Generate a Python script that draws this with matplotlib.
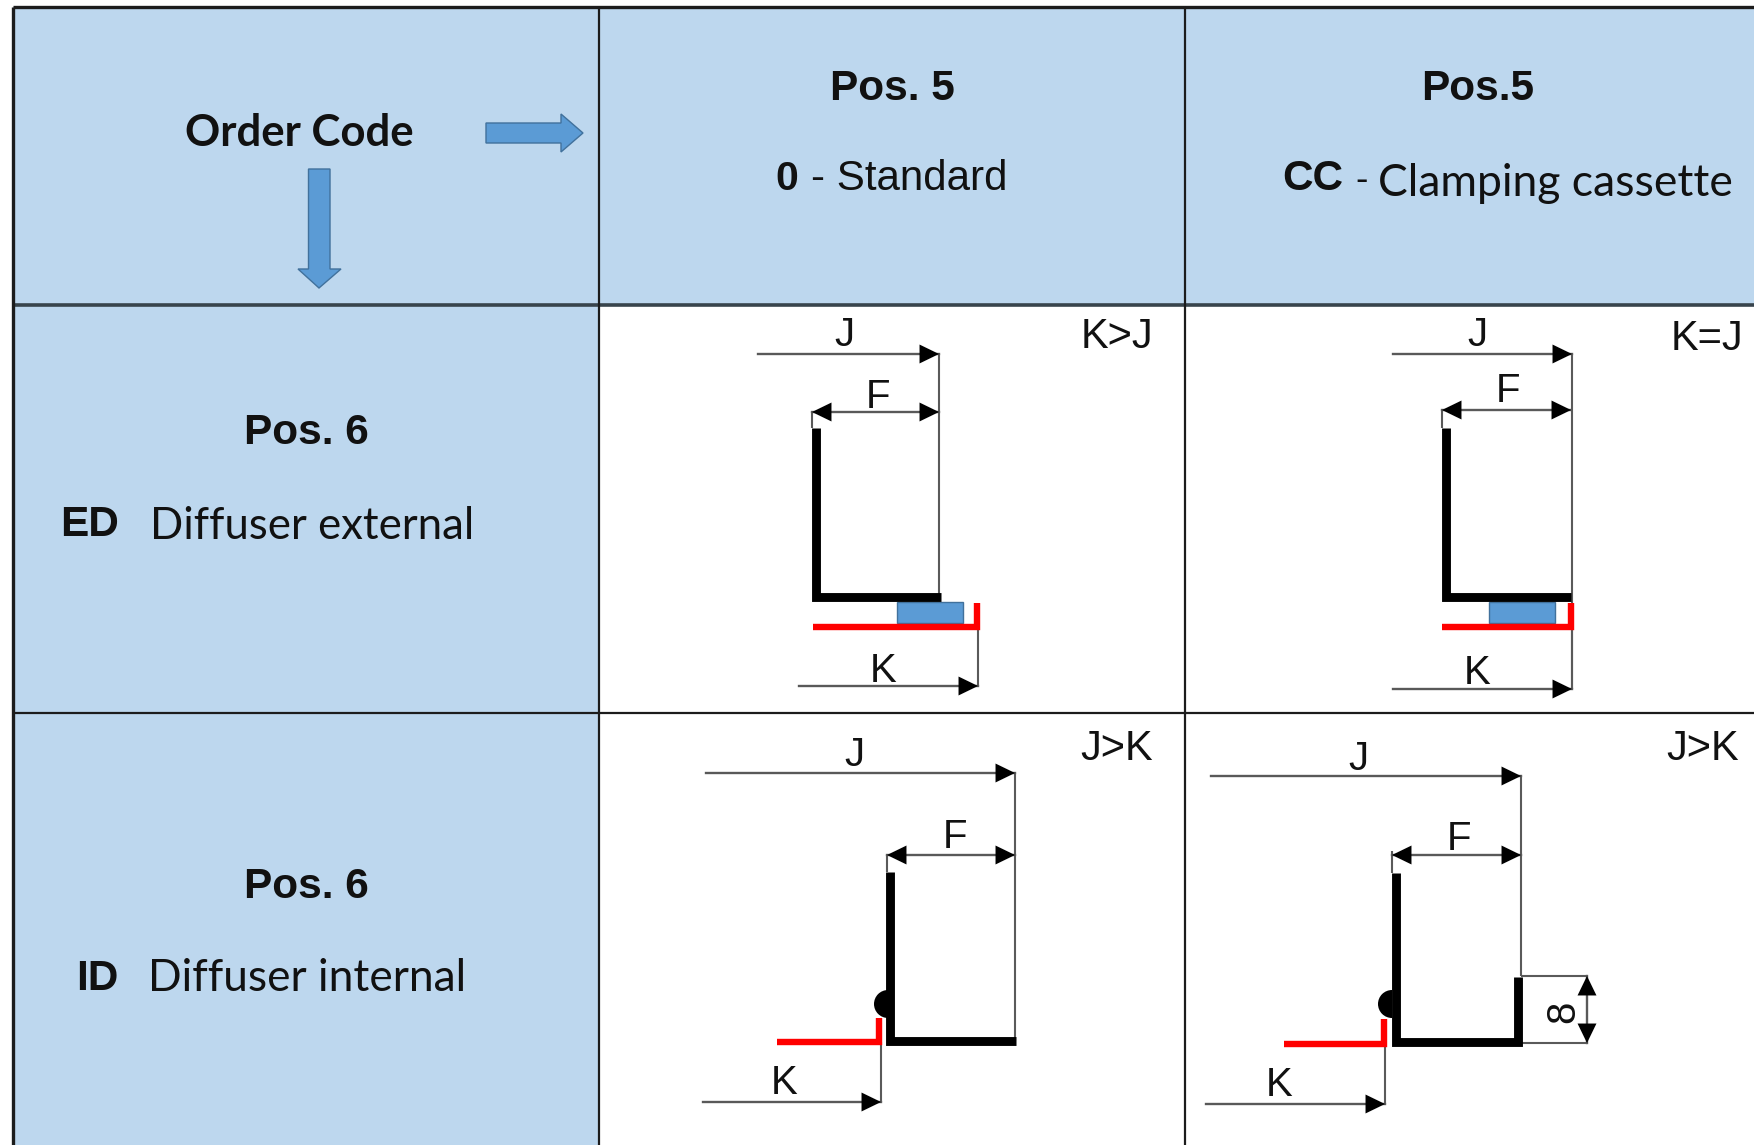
import matplotlib
matplotlib.use('Agg')
import matplotlib.pyplot as plt
from matplotlib.patches import Polygon, Rectangle, Wedge

BLUE_BG = '#bdd7ee'
BLUE_MARK = '#5b9bd5'
BLUE_EDGE = '#41719c'
GREY = '#5a5a5a'
ARIAL = 'Liberation Sans'
CALIBRI = 'Lato'

# table grid, in picture pixels
col_x = [13, 599, 1185]
row_y = [6, 304, 712]
width = 1754
height = 1145

right_arrow = [(486, 122), (561, 122), (561, 113), (583, 132), (561, 151), (561, 142), (486, 142)]
down_arrow = [(308.5, 168), (330, 168), (330, 268), (341, 268), (319, 287), (298, 268), (308.5, 268)]

# drawings: one set of numbers for each of the four cells
# j = (x start, x end, y), f = (x start, x end, y), k = (x start, x end, y)
j_dim = [(758, 939, 353), (1393, 1572, 353), (706, 1015, 772), (1211, 1521, 775)]
f_dim = [(812, 939, 411), (1442, 1571, 409), (887, 1015, 854), (1392, 1521, 854)]
k_dim = [(799, 978, 685), (1393, 1572, 688), (703, 881, 1101), (1206, 1385, 1103)]
j_drop = [593, 688, 1040, 975]
f_tick = [(411, 427), (409, 427), (854, 871), (850, 872)]
k_drop = [626, 626, 1041, 1043]
j_text = [(844, 332), (1477, 332), (854, 752), (1358, 756)]
f_text = [(878, 393), (1508, 388), (955, 833), (1459, 835)]
k_text = [(883, 668), (1477, 669), (784, 1079), (1279, 1082)]
rule_labels = ['K>J', 'K=J', 'J>K', 'J>K']
rule_text = [(1117, 333), (1707, 335), (1117, 746), (1703, 746)]

black_x = [
    [816, 816, 941],
    [1446, 1446, 1571],
    [890, 890, 1016],
    [1396, 1396, 1517.5, 1517.5],
]
black_y = [
    [427, 596, 596],
    [427, 596, 596],
    [871, 1040, 1040],
    [872, 1041, 1041, 976],
]
red_x = [
    [813, 976.5, 976.5],
    [1442, 1571, 1571],
    [777, 878.5, 878.5],
    [1284, 1384, 1384],
]
red_y = [
    [626, 626, 602],
    [626, 626, 602],
    [1041, 1041, 1017],
    [1043, 1043, 1018],
]
clamps = [(897, 601, 66, 21), (1489, 601, 66, 21)]
beads = [(888, 1003), (1392, 1003)]

fig = plt.figure(figsize=(17.54, 11.45), dpi=100)
ax = fig.add_axes([0, 0, 1, 1])
ax.set_xlim(0, width)
ax.set_ylim(height - 1, -1)
ax.axis('off')


def dim_arrow(x0, y0, x1, y1, both=False):
    style = '<|-|>' if both else '-|>'
    ax.annotate('', xy=(x1, y1), xytext=(x0, y0), zorder=4,
                arrowprops=dict(arrowstyle=style + ',head_length=14,head_width=6.8',
                                mutation_scale=1, shrinkA=0, shrinkB=0,
                                color='black', lw=0.01))
    ax.plot([x0, x1], [y0, y1], color=GREY, lw=1.7, zorder=2.5)


def thin(xs, ys):
    ax.plot(xs, ys, color=GREY, lw=1.5, zorder=3, solid_capstyle='butt')


def grid(xs, ys, color, lw):
    ax.plot(xs, ys, color=color, lw=lw, zorder=1, solid_capstyle='butt')


def label(x, y, s, size=22, family=ARIAL, weight='normal', ha='center', rotation=0):
    ax.text(x, y + 2.5, s, fontsize=size, family=family, fontweight=weight, ha=ha,
            va='center', rotation=rotation, color='#111111', zorder=6)


# backgrounds
ax.add_patch(Rectangle((col_x[0], row_y[0]), col_x[1] - col_x[0], height - row_y[0],
                       fc=BLUE_BG, ec='none', zorder=0))
ax.add_patch(Rectangle((col_x[0], row_y[0]), width - col_x[0], row_y[1] - row_y[0],
                       fc=BLUE_BG, ec='none', zorder=0))

# grid lines
grid([col_x[0], width], [row_y[0], row_y[0]], '#1c1c1c', 2.4)
grid([col_x[0], width], [row_y[1], row_y[1]], '#38444c', 2.6)
grid([col_x[0], width], [row_y[2], row_y[2]], '#1c1c1c', 1.6)
grid([col_x[0], col_x[0]], [row_y[0], height + 2], '#1c1c1c', 2.4)
grid([col_x[1], col_x[1]], [row_y[0], height + 2], '#1c1c1c', 1.6)
grid([col_x[2], col_x[2]], [row_y[0], height + 2], '#1c1c1c', 1.6)

# order code arrows
ax.add_patch(Polygon(right_arrow, fc=BLUE_MARK, ec=BLUE_EDGE, lw=1, zorder=2))
ax.add_patch(Polygon(down_arrow, fc=BLUE_MARK, ec=BLUE_EDGE, lw=1, zorder=2))

# header text
label(299, 130, 'Order Code', size=31.5, family=CALIBRI, weight='bold')
label(892, 85, 'Pos. 5', size=30.5, weight='bold')
label(1478, 85, 'Pos.5', size=30.5, weight='bold')
label(775, 176, '0', size=29.5, weight='bold', ha='left')
label(811, 176, '- Standard', size=30.3, ha='left')
label(1282, 176, 'CC', size=30.5, weight='bold', ha='left')
label(1355, 178, '-', size=27, ha='left')
label(1378, 180, 'Clamping cassette', size=32, family=CALIBRI, ha='left')
label(306, 430, 'Pos. 6', size=30.5, weight='bold')
label(60, 521, 'ED', size=30.5, weight='bold', ha='left')
label(150, 523, 'Diffuser external', size=31.5, family=CALIBRI, ha='left')
label(306, 883, 'Pos. 6', size=30.5, weight='bold')
label(76, 975, 'ID', size=30.5, weight='bold', ha='left')
label(148, 975, 'Diffuser internal', size=31.9, family=CALIBRI, ha='left')

# the four section drawings
for i in range(4):
    dim_arrow(j_dim[i][0], j_dim[i][2], j_dim[i][1], j_dim[i][2])
    dim_arrow(f_dim[i][0], f_dim[i][2], f_dim[i][1], f_dim[i][2], both=True)
    dim_arrow(k_dim[i][0], k_dim[i][2], k_dim[i][1], k_dim[i][2])
    thin([j_dim[i][1] - 0.5] * 2, [j_dim[i][2], j_drop[i]])
    thin([f_dim[i][0]] * 2, list(f_tick[i]))
    thin([k_dim[i][1] - 0.5] * 2, [k_drop[i], k_dim[i][2]])
    ax.plot(black_x[i], black_y[i], color='black', lw=6.4, zorder=5,
            solid_joinstyle='miter', solid_capstyle='butt')
    ax.plot(red_x[i], red_y[i], color='#ff0000', lw=4.6, zorder=5,
            solid_joinstyle='miter', solid_capstyle='butt')
    label(j_text[i][0], j_text[i][1], 'J', size=29)
    label(f_text[i][0], f_text[i][1], 'F', size=29)
    label(k_text[i][0], k_text[i][1], 'K', size=29)
    label(rule_text[i][0], rule_text[i][1], rule_labels[i], size=30)

for x, y, w, h in clamps:
    ax.add_patch(Rectangle((x, y), w, h, fc=BLUE_MARK, ec=BLUE_EDGE, lw=1, zorder=2))
for x, y in beads:
    ax.add_patch(Wedge((x, y), 14, 90, 270, fc='black', ec='none', zorder=5))

# the extra dimension in the last cell
thin([1521, 1587], [975, 975])
thin([1521, 1587], [1042, 1042])
dim_arrow(1587, 975, 1587, 1042, both=True)
label(1563, 1008, '8', size=29, rotation=90)

fig.savefig('out.png', dpi=100, facecolor='white')
